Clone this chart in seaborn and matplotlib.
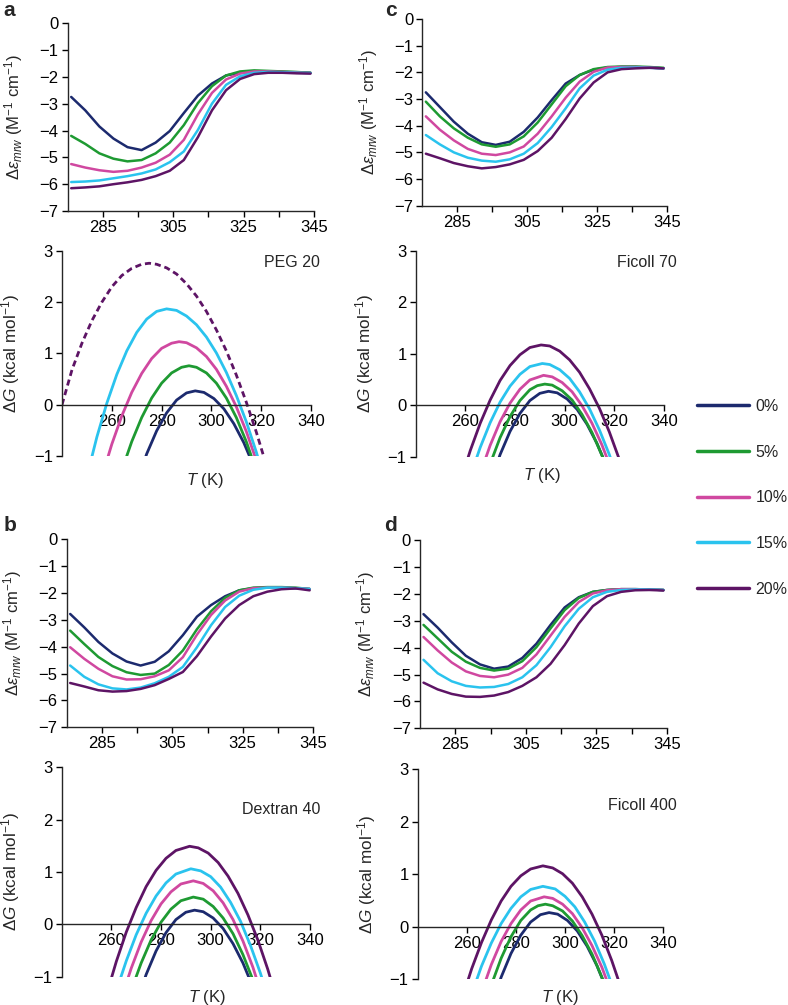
import pandas as pd
import seaborn as sns
import matplotlib
matplotlib.use('Agg')
import matplotlib.pyplot as plt
from matplotlib.lines import Line2D

# concentrations and colours
conc_labels = ['0%', '5%', '10%', '15%', '20%']
conc_colors = ['#1c2a6e', '#1e9a32', '#d048a0', '#2ac3ee', '#5d1465']

# CD melting curves, read at these temperatures (K)
cd_T = [276, 280, 284, 288, 292, 296, 300, 304, 308, 312, 316, 320, 324, 328, 332, 336, 340, 344]

cd_peg20 = [
    [-2.75, -3.25, -3.85, -4.3, -4.62, -4.73, -4.45, -4.02, -3.35, -2.7, -2.25, -1.95, -1.85, -1.82, -1.8, -1.82, -1.83, -1.85],
    [-4.2, -4.5, -4.85, -5.05, -5.15, -5.1, -4.85, -4.45, -3.8, -2.98, -2.35, -1.95, -1.8, -1.76, -1.78, -1.8, -1.82, -1.85],
    [-5.25, -5.38, -5.48, -5.54, -5.5, -5.38, -5.2, -4.9, -4.35, -3.4, -2.6, -2.1, -1.88, -1.8, -1.8, -1.82, -1.84, -1.86],
    [-5.92, -5.9, -5.86, -5.78, -5.7, -5.6, -5.45, -5.18, -4.78, -3.98, -3.0, -2.3, -1.98, -1.85, -1.82, -1.83, -1.85, -1.86],
    [-6.15, -6.12, -6.08, -6.0, -5.93, -5.84, -5.7, -5.5, -5.1, -4.25, -3.25, -2.5, -2.08, -1.9, -1.85, -1.85, -1.87, -1.88],
]
cd_ficoll70 = [
    [-2.75, -3.3, -3.85, -4.3, -4.62, -4.72, -4.6, -4.23, -3.69, -3.04, -2.42, -2.1, -1.9, -1.82, -1.8, -1.8, -1.82, -1.85],
    [-3.1, -3.65, -4.1, -4.45, -4.7, -4.79, -4.7, -4.4, -3.88, -3.2, -2.52, -2.1, -1.88, -1.8, -1.78, -1.78, -1.8, -1.83],
    [-3.65, -4.15, -4.55, -4.87, -5.05, -5.1, -5.0, -4.78, -4.3, -3.65, -2.95, -2.35, -1.98, -1.82, -1.8, -1.8, -1.82, -1.85],
    [-4.35, -4.7, -5.0, -5.2, -5.31, -5.35, -5.26, -5.05, -4.65, -4.05, -3.35, -2.6, -2.12, -1.9, -1.83, -1.82, -1.83, -1.85],
    [-5.05, -5.22, -5.4, -5.52, -5.6, -5.55, -5.45, -5.28, -4.95, -4.45, -3.75, -2.98, -2.38, -2.0, -1.88, -1.85, -1.83, -1.85],
]
cd_dextran40 = [
    [-2.78, -3.28, -3.82, -4.25, -4.55, -4.7, -4.56, -4.17, -3.57, -2.88, -2.45, -2.12, -1.9, -1.82, -1.8, -1.8, -1.83, -1.85],
    [-3.4, -3.9, -4.38, -4.72, -4.95, -5.05, -5.0, -4.68, -4.14, -3.35, -2.68, -2.18, -1.9, -1.8, -1.78, -1.78, -1.8, -1.85],
    [-4.02, -4.45, -4.82, -5.1, -5.22, -5.21, -5.1, -4.88, -4.39, -3.55, -2.82, -2.28, -1.95, -1.82, -1.8, -1.8, -1.82, -1.85],
    [-4.7, -5.12, -5.4, -5.55, -5.59, -5.52, -5.36, -5.12, -4.75, -4.02, -3.2, -2.52, -2.1, -1.88, -1.8, -1.8, -1.82, -1.85],
    [-5.35, -5.48, -5.62, -5.67, -5.65, -5.57, -5.43, -5.2, -4.94, -4.35, -3.62, -2.95, -2.45, -2.12, -1.95, -1.86, -1.83, -1.9],
]
cd_ficoll400 = [
    [-2.75, -3.25, -3.8, -4.3, -4.62, -4.78, -4.7, -4.38, -3.85, -3.15, -2.5, -2.12, -1.92, -1.85, -1.82, -1.82, -1.83, -1.85],
    [-3.15, -3.65, -4.15, -4.52, -4.75, -4.85, -4.78, -4.5, -3.98, -3.28, -2.6, -2.15, -1.92, -1.85, -1.82, -1.82, -1.83, -1.85],
    [-3.6, -4.1, -4.55, -4.88, -5.05, -5.1, -5.0, -4.75, -4.25, -3.55, -2.85, -2.3, -1.98, -1.86, -1.82, -1.82, -1.83, -1.85],
    [-4.45, -4.95, -5.25, -5.42, -5.48, -5.46, -5.35, -5.1, -4.65, -3.98, -3.2, -2.55, -2.12, -1.92, -1.85, -1.83, -1.83, -1.85],
    [-5.3, -5.55, -5.72, -5.82, -5.83, -5.78, -5.65, -5.42, -5.1, -4.6, -3.9, -3.1, -2.45, -2.08, -1.92, -1.86, -1.85, -1.87],
]

# stability curves dG(T); 0% is the same in every panel
dg_buffer_T = [270, 274, 278, 282, 286, 290, 293.5, 297, 301, 305, 309, 313, 317]
dg_buffer = [-1.52, -0.96, -0.51, -0.16, 0.09, 0.23, 0.27, 0.24, 0.12, -0.08, -0.37, -0.74, -1.20]

dg_peg20_T = [
    [262, 264, 268, 272, 276, 280, 284, 288, 291, 294, 298, 302, 306, 310, 314, 318],
    [256, 260, 264, 268, 272, 276, 280, 284, 287, 290, 294, 298, 302, 306, 310, 314, 318, 322],
    [250, 254, 258, 262, 266, 270, 274, 278, 282, 286, 290, 294, 298, 302, 306, 310, 314, 318, 322],
    [240, 244, 248, 252, 256, 260, 264, 268, 272, 275, 278, 282, 286, 290, 294, 298, 302, 306, 310, 314, 318, 322],
]
dg_peg20 = [
    [-1.59, -1.28, -0.72, -0.25, 0.13, 0.42, 0.62, 0.73, 0.76, 0.73, 0.62, 0.42, 0.13, -0.25, -0.72, -1.28],
    [-1.41, -0.77, -0.22, 0.24, 0.61, 0.90, 1.10, 1.20, 1.23, 1.21, 1.11, 0.94, 0.69, 0.36, -0.04, -0.52, -1.08, -1.71],
    [-1.40, -0.63, 0.03, 0.59, 1.05, 1.41, 1.67, 1.82, 1.87, 1.84, 1.73, 1.56, 1.32, 1.01, 0.63, 0.18, -0.33, -0.92, -1.57],
    [0.0, 0.68, 1.2, 1.64, 2.0, 2.3, 2.52, 2.66, 2.74, 2.76, 2.74, 2.67, 2.55, 2.36, 2.12, 1.82, 1.46, 1.05, 0.58, 0.05, -0.53, -1.17],
]
dg_ficoll70_T = [
    [268, 270, 274, 278, 282, 286, 289, 292, 295, 299, 303, 307, 311, 315, 318],
    [264, 266, 270, 274, 278, 282, 286, 291.5, 295, 299, 303, 307, 311, 315, 319],
    [262, 266, 270, 274, 278, 282, 286, 291, 294, 298, 302, 306, 310, 314, 318, 322],
    [258, 262, 266, 270, 274, 278, 282, 286, 290.5, 294, 298, 302, 306, 310, 314, 318, 322, 324],
]
dg_ficoll70 = [
    [-1.43, -1.14, -0.63, -0.22, 0.09, 0.30, 0.38, 0.41, 0.39, 0.28, 0.10, -0.18, -0.53, -0.97, -1.35],
    [-1.64, -1.33, -0.78, -0.32, 0.04, 0.31, 0.49, 0.58, 0.55, 0.44, 0.26, -0.01, -0.35, -0.77, -1.27],
    [-1.38, -0.82, -0.34, 0.06, 0.37, 0.60, 0.75, 0.81, 0.79, 0.69, 0.52, 0.26, -0.07, -0.48, -0.96, -1.53],
    [-1.49, -0.88, -0.35, 0.10, 0.48, 0.77, 0.98, 1.12, 1.17, 1.15, 1.05, 0.88, 0.64, 0.32, -0.06, -0.52, -1.05, -1.35],
]
dg_dextran40_T = [
    [266, 268, 272, 276, 280, 284, 288, 293, 297, 301, 305, 309, 313, 317, 320],
    [264, 268, 272, 276, 280, 284, 288, 293, 297, 301, 305, 309, 313, 317, 321],
    [260, 262, 266, 270, 274, 278, 282, 286, 292, 296, 300, 304, 308, 312, 316, 320, 324],
    [256, 258, 262, 266, 270, 274, 278, 282, 286, 291.5, 295, 299, 303, 307, 311, 315, 319, 323, 327],
]
dg_dextran40 = [
    [-1.56, -1.26, -0.74, -0.30, 0.04, 0.29, 0.45, 0.52, 0.48, 0.34, 0.12, -0.18, -0.58, -1.06, -1.48],
    [-1.42, -0.84, -0.34, 0.07, 0.39, 0.62, 0.77, 0.83, 0.78, 0.64, 0.41, 0.09, -0.32, -0.82, -1.41],
    [-1.59, -1.27, -0.70, -0.20, 0.21, 0.54, 0.79, 0.96, 1.06, 1.02, 0.91, 0.71, 0.42, 0.06, -0.40, -0.93, -1.54],
    [-1.70, -1.35, -0.71, -0.15, 0.32, 0.72, 1.03, 1.26, 1.41, 1.49, 1.46, 1.36, 1.18, 0.92, 0.59, 0.18, -0.30, -0.86, -1.50],
]
dg_ficoll400_T = [
    [268, 270, 274, 278, 282, 286, 289, 292, 295, 299, 303, 307, 311, 315, 318],
    [264, 266, 270, 274, 278, 282, 286, 291.5, 295, 299, 303, 307, 311, 315, 319],
    [260, 262, 266, 270, 274, 278, 282, 286, 291, 296, 300, 304, 308, 312, 316, 320, 322],
    [256, 258, 262, 266, 270, 274, 278, 282, 286, 291, 295, 299, 303, 307, 311, 315, 319, 323, 325],
]
dg_ficoll400 = [
    [-1.41, -1.11, -0.60, -0.19, 0.12, 0.32, 0.40, 0.43, 0.40, 0.30, 0.11, -0.17, -0.52, -0.96, -1.35],
    [-1.55, -1.25, -0.72, -0.28, 0.06, 0.32, 0.49, 0.57, 0.54, 0.43, 0.25, -0.02, -0.36, -0.77, -1.27],
    [-1.57, -1.28, -0.75, -0.31, 0.06, 0.35, 0.57, 0.71, 0.77, 0.72, 0.58, 0.38, 0.09, -0.27, -0.71, -1.22, -1.51],
    [-1.70, -1.38, -0.80, -0.30, 0.13, 0.49, 0.77, 0.97, 1.10, 1.16, 1.12, 1.01, 0.83, 0.57, 0.24, -0.16, -0.64, -1.19, -1.49],
]

sns.set_style('ticks')
plt.rcParams['font.family'] = ['Liberation Sans', 'DejaVu Sans']
plt.rcParams['mathtext.fontset'] = 'custom'
plt.rcParams['mathtext.rm'] = 'Liberation Sans'
plt.rcParams['mathtext.it'] = 'Liberation Sans:italic'
plt.rcParams['axes.linewidth'] = 1.0

fig = plt.figure(figsize=(7.88, 10.05), dpi=100)


def cd_panel(rect, values):
    ax = fig.add_axes(rect)
    rows = []
    for lab, v in zip(conc_labels, values):
        rows += [{'T': t, 'v': y, 'c': lab} for t, y in zip(cd_T, v)]
    df = pd.DataFrame(rows)
    sns.lineplot(data=df, x='T', y='v', hue='c', hue_order=conc_labels,
                 palette=conc_colors, linewidth=1.8, legend=False, ax=ax)
    ax.set_xlim(275, 345)
    ax.set_ylim(-7, 0)
    ax.set_xticks([285, 295, 305, 315, 325, 335, 345])
    ax.set_xticklabels(['285', '', '305', '', '325', '', '345'])
    ax.set_yticks(range(-7, 1))
    sns.despine(ax=ax)
    ax.tick_params(labelsize=12, length=4.5, width=1.0, pad=2, colors='black')
    ax.set_xlabel('')
    ax.set_ylabel(r'$\Delta\mathit{\varepsilon}_{mrw}$ (M$^{-1}$ cm$^{-1}$)', fontsize=12)
    ax.yaxis.set_label_coords(-0.175, 0.5)
    return ax


def dg_panel(rect, t_lists, g_lists, name, name_xy, xlab_x, xlab_y, dashed_last=False):
    ax = fig.add_axes(rect)
    sns.lineplot(x=dg_buffer_T, y=dg_buffer, color=conc_colors[0], linewidth=2.0, ax=ax)
    for i, (ts, gs) in enumerate(zip(t_lists, g_lists)):
        if dashed_last and i == len(t_lists) - 1:
            sns.lineplot(x=ts, y=gs, color=conc_colors[i + 1], linewidth=2.0,
                         linestyle=(0, (2.2, 1.4)), ax=ax)
        else:
            sns.lineplot(x=ts, y=gs, color=conc_colors[i + 1], linewidth=2.0, ax=ax)
    ax.set_xlim(240, 340)
    ax.set_ylim(-1, 3)
    ax.spines['bottom'].set_position(('data', 0))
    sns.despine(ax=ax)
    ax.set_xticks([260, 280, 300, 320, 340])
    ax.set_yticks([-1, 0, 1, 2, 3])
    ax.tick_params(labelsize=12, length=4.5, width=1.0, pad=2, colors='black')
    ax.set_ylabel(r'$\Delta\mathit{G}$ (kcal mol$^{-1}$)', fontsize=12.3)
    ax.yaxis.set_label_coords(-0.16, 0.5)
    ax.set_xlabel(r'$T$ (K)', fontsize=12)
    ax.xaxis.set_label_coords(xlab_x, xlab_y)
    ax.text(name_xy[0], name_xy[1], name, transform=ax.transAxes,
            ha='right', va='center', fontsize=11.5)
    return ax


cd_panel([0.0859, 0.790, 0.3126, 0.187], cd_peg20)
dg_panel([0.0787, 0.5463, 0.316, 0.204], dg_peg20_T, dg_peg20, 'PEG 20',
         (1.036, 0.946), 0.574, -0.073, dashed_last=True)

cd_panel([0.536, 0.7953, 0.3105, 0.1858], cd_ficoll70)
dg_panel([0.5275, 0.5456, 0.3151, 0.2049], dg_ficoll70_T, dg_ficoll70, 'Ficoll 70',
         (1.052, 0.942), 0.507, -0.045)

cd_panel([0.0846, 0.2763, 0.3128, 0.1871], cd_dextran40)
dg_panel([0.0783, 0.0282, 0.3151, 0.2084], dg_dextran40_T, dg_dextran40, 'Dextran 40',
         (1.04, 0.80), 0.584, -0.052)

cd_panel([0.533, 0.2753, 0.3134, 0.1871], cd_ficoll400)
dg_panel([0.530, 0.0256, 0.3117, 0.2090], dg_ficoll400_T, dg_ficoll400, 'Ficoll 400',
         (1.055, 0.825), 0.58, -0.04)

# panel letters
for x, y, s in [(0.004, 0.999, 'a'), (0.489, 0.999, 'c'), (0.005, 0.487, 'b'), (0.488, 0.487, 'd')]:
    fig.text(x, y, s, ha='left', va='top', fontsize=15, fontweight='bold')

# legend
handles = [Line2D([], [], color=c, linewidth=2.5) for c in conc_colors]
fig.legend(handles, conc_labels, loc='upper left', bbox_to_anchor=(0.884, 1 - 399 / 1005),
           frameon=False, fontsize=11.5, handlelength=3.3, handletextpad=0.4,
           labelspacing=1.92, borderpad=0, borderaxespad=0)

fig.savefig('out.png', dpi=100)
